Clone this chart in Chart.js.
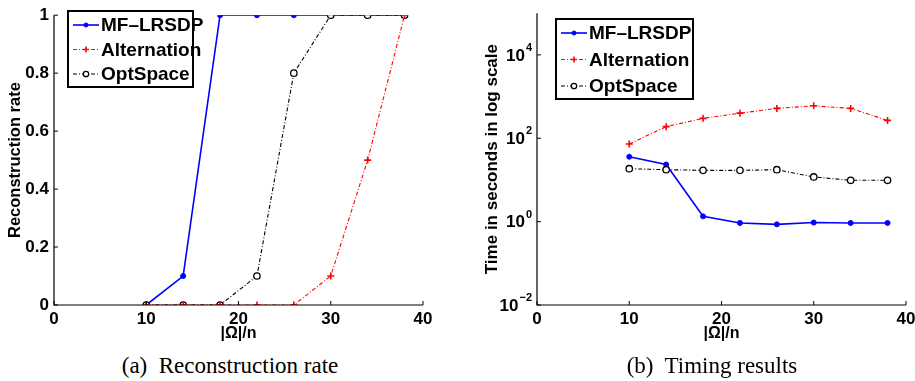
<!DOCTYPE html>
<html>
<head>
<meta charset="utf-8">
<script src="https://cdn.jsdelivr.net/npm/chart.js@4/dist/chart.umd.min.js"></script>
<style>
  html, body { margin: 0; padding: 0; background: #fff; }
  body { width: 915px; height: 381px; position: relative; overflow: hidden; }
  .wrap { position: absolute; top: 0; height: 350px; }
  .caption {
    position: absolute; top: 351px; font-family: "Liberation Serif", "Times New Roman", serif;
    font-size: 23px; line-height: 30px; color: #000; white-space: nowrap; transform: translateX(-50%);
  }
</style>
</head>
<body>
<div class="wrap" style="left:0;width:457px"><canvas id="rateChart" width="457" height="350"></canvas></div>
<div class="wrap" style="left:450px;width:465px"><canvas id="timeChart" width="465" height="350"></canvas></div>
<div class="caption" style="left:230px">(a)&nbsp; Reconstruction rate</div>
<div class="caption" style="left:712px">(b)&nbsp; Timing results</div>
<script>
// sample sizes |Omega|/n
const omegaRatio = [10, 14, 18, 22, 26, 30, 34, 38];

// reconstruction rate (left panel)
const rateMF = [0, 0.1, 1, 1, 1, 1, 1, 1];
const rateAlt = [0, 0, 0, 0, 0, 0.1, 0.5, 1];
const rateOpt = [0, 0, 0, 0.1, 0.8, 1, 1, 1];

// time in seconds (right panel)
const timeMF = [36, 23.5, 1.34, 0.93, 0.86, 0.95, 0.93, 0.93];
const timeAlt = [73, 190, 300, 400, 520, 600, 520, 268];
const timeOpt = [18.6, 17.6, 17, 17, 17.6, 11.8, 9.8, 9.8];

const xTicks = [0, 10, 20, 30, 40];
const rateTicks = [0, 0.2, 0.4, 0.6, 0.8, 1];
const logExponents = [-2, 0, 2, 4];

const seriesNames = ['MF\u2013LRSDP', 'Alternation', 'OptSpace'];

const FONT = '"Liberation Sans", Arial, Helvetica, sans-serif';
const dashDot = [4, 2, 1, 2];

function toPoints(ys) {
    return omegaRatio.map((x, i) => ({ x: x, y: ys[i] }));
}

function makeDatasets(mf, alt, opt) {
    return [
        {
            label: seriesNames[0], data: toPoints(mf),
            borderColor: '#0000ff', backgroundColor: '#0000ff', borderWidth: 1.6,
            pointStyle: 'circle', pointRadius: 2.5, pointBorderWidth: 1, order: 3
        },
        {
            label: seriesNames[1], data: toPoints(alt),
            borderColor: '#ff0000', backgroundColor: '#ff0000', borderWidth: 1.1, borderDash: dashDot,
            pointStyle: 'cross', pointRadius: 3.5, pointBorderWidth: 1.6, order: 1
        },
        {
            label: seriesNames[2], data: toPoints(opt),
            borderColor: '#000000', backgroundColor: '#ffffff', borderWidth: 1.1, borderDash: dashDot,
            pointStyle: 'circle', pointRadius: 3.2, pointBorderWidth: 1.3, order: 2
        }
    ];
}

// inward MATLAB-like ticks, axis lines and the legend box
function matlabPlugin(opts) {
    return {
        id: 'matlab',
        afterDatasetsDraw(chart) {
            const ctx = chart.ctx;
            const area = chart.chartArea;
            const xs = chart.scales.x, ys = chart.scales.y;
            ctx.save();
            ctx.strokeStyle = '#000';
            ctx.lineWidth = 1.2;
            ctx.beginPath();
            ctx.moveTo(area.left, area.top);
            ctx.lineTo(area.left, area.bottom);
            ctx.lineTo(area.right, area.bottom);
            ctx.stroke();
            ctx.lineWidth = 1;
            ctx.beginPath();
            xs.ticks.forEach(t => {
                const px = xs.getPixelForValue(t.value);
                ctx.moveTo(px, area.bottom);
                ctx.lineTo(px, area.bottom - 4);
            });
            ys.ticks.forEach(t => {
                const py = ys.getPixelForValue(t.value);
                ctx.moveTo(area.left, py);
                ctx.lineTo(area.left + 4, py);
            });
            ctx.stroke();

            // log tick labels with superscript exponents
            if (opts.logLabels) {
                ctx.fillStyle = '#000';
                ctx.textBaseline = 'middle';
                logExponents.forEach(e => {
                    const py = ys.getPixelForValue(Math.pow(10, e));
                    const exp = e < 0 ? '\u2212' + Math.abs(e) : String(e);
                    ctx.font = 'bold 11px ' + FONT;
                    const ew = ctx.measureText(exp).width;
                    const right = area.left - 5;
                    ctx.textAlign = 'left';
                    ctx.fillText(exp, right - ew, py - 7);
                    ctx.font = 'bold 17px ' + FONT;
                    ctx.textAlign = 'right';
                    ctx.fillText('10', right - ew - 1, py + 1);
                });
            }

            // legend
            const L = opts.legend;
            ctx.fillStyle = '#fff';
            ctx.fillRect(L.x, L.y, L.w, L.h);
            ctx.lineWidth = 2;
            ctx.strokeStyle = '#000';
            ctx.strokeRect(L.x, L.y, L.w, L.h);
            chart.data.datasets.forEach((ds, i) => {
                const cy = L.y + L.firstRow + i * L.rowGap;
                const x0 = L.x + 5, x1 = x0 + L.lineLen;
                const mx = (x0 + x1) / 2;
                ctx.save();
                ctx.strokeStyle = ds.borderColor;
                ctx.lineWidth = ds.borderWidth;
                ctx.setLineDash(ds.borderDash || []);
                ctx.beginPath();
                ctx.moveTo(x0, cy);
                ctx.lineTo(x1, cy);
                ctx.stroke();
                ctx.setLineDash([]);
                ctx.fillStyle = ds.backgroundColor;
                ctx.lineWidth = ds.pointBorderWidth;
                ctx.beginPath();
                if (ds.pointStyle === 'cross') {
                    const r = 3;
                    ctx.moveTo(mx - r, cy); ctx.lineTo(mx + r, cy);
                    ctx.moveTo(mx, cy - r); ctx.lineTo(mx, cy + r);
                    ctx.stroke();
                } else {
                    ctx.arc(mx, cy, ds.pointRadius - 0.5, 0, Math.PI * 2);
                    ctx.fill();
                    ctx.stroke();
                }
                ctx.restore();
                ctx.fillStyle = '#000';
                ctx.font = 'bold 19px ' + FONT;
                ctx.textAlign = 'left';
                ctx.textBaseline = 'middle';
                ctx.fillText(ds.label, x1 + 2, cy + 1);
            });
            ctx.restore();
        }
    };
}

function baseXScale() {
    return {
        type: 'linear', min: 0, max: 40,
        afterBuildTicks: s => { s.ticks = xTicks.map(v => ({ value: v })); },
        afterFit: s => { s.height = 45; s.paddingLeft = 0; s.paddingRight = 0; },
        border: { display: false },
        grid: { display: false, drawTicks: false },
        ticks: { color: '#000', padding: 4, font: { family: FONT, size: 17, weight: 'bold' }, maxRotation: 0 },
        title: {
            display: true, text: '|\u03a9|/n', color: '#000',
            font: { family: FONT, size: 16, weight: 'bold' }, padding: { top: 0, bottom: 7 }
        }
    };
}

const commonOptions = {
    responsive: false,
    animation: false,
    plugins: { legend: { display: false }, tooltip: { enabled: false } },
    elements: { line: { tension: 0 } }
};

new Chart(document.getElementById('rateChart'), {
    type: 'line',
    data: { datasets: makeDatasets(rateMF, rateAlt, rateOpt) },
    options: Object.assign({}, commonOptions, {
        layout: { padding: { left: 0, top: 12, right: 34, bottom: 0 } },
        scales: {
            x: baseXScale(),
            y: {
                type: 'linear', min: 0, max: 1,
                afterBuildTicks: s => { s.ticks = rateTicks.map(v => ({ value: v })); },
                afterFit: s => { s.width = 54; },
                border: { display: false },
                grid: { display: false, drawTicks: false },
                ticks: {
                    color: '#000', padding: 5, font: { family: FONT, size: 17, weight: 'bold' },
                    callback: v => String(v)
                },
                title: {
                    display: true, text: 'Reconstruction rate', color: '#000',
                    font: { family: FONT, size: 16.5, weight: 'bold' }, padding: { top: 6, bottom: 0 }
                }
            }
        }
    }),
    plugins: [matlabPlugin({
        logLabels: false,
        legend: { x: 68, y: 11, w: 125, h: 76, firstRow: 14, rowGap: 24.5, lineLen: 26 }
    })]
});

new Chart(document.getElementById('timeChart'), {
    type: 'line',
    data: { datasets: makeDatasets(timeMF, timeAlt, timeOpt) },
    options: Object.assign({}, commonOptions, {
        layout: { padding: { left: 0, top: 13, right: 9, bottom: 0 } },
        scales: {
            x: baseXScale(),
            y: {
                type: 'logarithmic', min: 0.01, max: 100000,
                afterBuildTicks: s => { s.ticks = logExponents.map(e => ({ value: Math.pow(10, e) })); },
                afterFit: s => { s.width = 87; },
                border: { display: false },
                grid: { display: false, drawTicks: false },
                ticks: { display: true, callback: () => '', font: { family: FONT, size: 17, weight: 'bold' } },
                title: {
                    display: true, text: 'Time in seconds in log scale', color: '#000',
                    font: { family: FONT, size: 17, weight: 'bold' }, padding: { top: 32, bottom: 0 }
                }
            }
        }
    }),
    plugins: [matlabPlugin({
        logLabels: true,
        legend: { x: 106, y: 19, w: 137, h: 80, firstRow: 14, rowGap: 26.5, lineLen: 26 }
    })]
});
</script>
</body>
</html>
